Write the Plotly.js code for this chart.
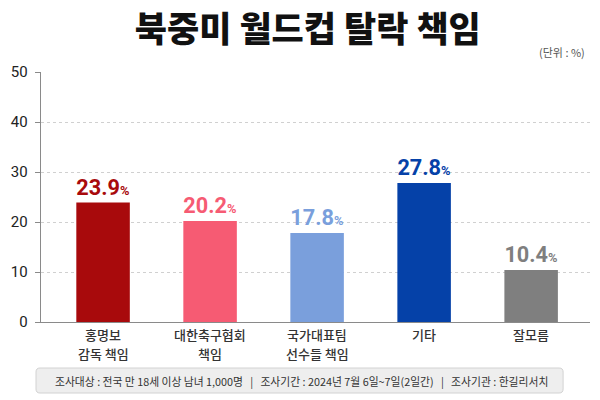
<!DOCTYPE html>
<html>
<head>
<meta charset="utf-8">
<script src="https://cdn.plot.ly/plotly-3.0.1.min.js"></script>
<style>html,body{margin:0;padding:0;background:#fff;}#chart{width:600px;height:400px;}</style>
</head>
<body>
<div id="chart"></div>
<script>
const categories = ["홍명보<br>감독 책임", "대한축구협회<br>책임", "국가대표팀<br>선수들 책임", "기타", "잘모름"];
const values = [23.9, 20.2, 17.8, 27.8, 10.4];
const barColors = ["#A80A0C", "#F65B73", "#7A9FDC", "#0541A8", "#7F7F7F"];
const yTicks = [0, 10, 20, 30, 40, 50];
const titleText = "북중미 월드컵 탈락 책임";
const unitText = "(단위 : %)";
const footerText = "조사대상 : 전국 만 18세 이상 남녀 1,000명   |   조사기간 : 2024년 7월 6일~7일(2일간)   |   조사기관 : 한길리서치";

const xIdx = categories.map((_, i) => i);

const trace = {
  type: "bar",
  x: xIdx,
  y: values,
  width: 0.5,
  marker: {color: barColors, line: {width: 0}},
  texttemplate: "%{y:.1f}<span style='font-size:13px'>%</span>",
  textposition: "outside",
  cliponaxis: false,
  textfont: {family: "Liberation Sans Narrow, Roboto, sans-serif", size: 22, color: barColors, weight: 700},
  hoverinfo: "skip"
};

// category labels: one annotation per line, built from the categories array
const catAnnotations = [];
categories.forEach((c, i) => {
  c.split("<br>").forEach((line, j) => {
    catAnnotations.push({
      text: line, xref: "x", yref: "paper",
      x: i, xanchor: "center", y: 0, yanchor: "middle",
      yshift: -12 - 19 * j,
      showarrow: false,
      font: {family: "Noto Sans CJK KR, sans-serif", size: 13, color: "#333333", weight: 500}
    });
  });
});

const layout = {
  width: 600, height: 400,
  margin: {l: 41, r: 10, t: 72, b: 78},
  paper_bgcolor: "#ffffff",
  plot_bgcolor: "#ffffff",
  showlegend: false,
  title: {
    text: titleText,
    x: 0.513, xanchor: "center", xref: "container",
    y: 0.925, yanchor: "middle", yref: "container",
    font: {family: "Noto Sans CJK KR, sans-serif", size: 35, color: "#111111", weight: 900}
  },
  xaxis: {
    range: [-0.58, 4.55],
    tickmode: "array",
    tickvals: xIdx,
    ticktext: xIdx.map(() => ""),
    showline: true, linecolor: "#8a8a8a", linewidth: 1.3,
    ticks: "", showgrid: false, zeroline: false,
    fixedrange: true
  },
  yaxis: {
    range: [0, 50],
    tickmode: "array",
    tickvals: yTicks,
    showline: true, linecolor: "#8a8a8a", linewidth: 1.3,
    ticks: "outside", ticklen: 5, tickcolor: "#8a8a8a",
    showgrid: true, gridcolor: "#d0d0d0", griddash: "dot", gridwidth: 1,
    zeroline: false,
    tickfont: {family: "Roboto, sans-serif", size: 15, color: "#222222"},
    ticklabelstandoff: 4,
    fixedrange: true
  },
  shapes: [
    {
      type: "path", xref: "paper", yref: "paper",
      path: "M -0.0018 -0.184 L 0.9437 -0.184 Q 0.951 -0.184 0.951 -0.2 L 0.951 -0.268 Q 0.951 -0.284 0.9437 -0.284 L -0.0018 -0.284 Q -0.0091 -0.284 -0.0091 -0.268 L -0.0091 -0.2 Q -0.0091 -0.184 -0.0018 -0.184 Z",
      fillcolor: "#eeeeee", line: {color: "#d2d2d2", width: 1}, layer: "below"
    }
  ],
  annotations: catAnnotations.concat([
    {
      text: unitText, xref: "paper", yref: "paper",
      x: 0.9945, xanchor: "right", y: 1.08, yanchor: "middle",
      showarrow: false,
      font: {family: "Noto Sans CJK KR, sans-serif", size: 11, color: "#555555"}
    },
    {
      text: footerText, xref: "paper", yref: "paper",
      x: 0.4745, xanchor: "center", y: -0.236, yanchor: "middle",
      showarrow: false,
      font: {family: "Noto Sans CJK KR, sans-serif", size: 10.8, color: "#333333"}
    }
  ])
};

Plotly.newPlot("chart", [trace], layout, {displayModeBar: false, staticPlot: true});
</script>
</body>
</html>
